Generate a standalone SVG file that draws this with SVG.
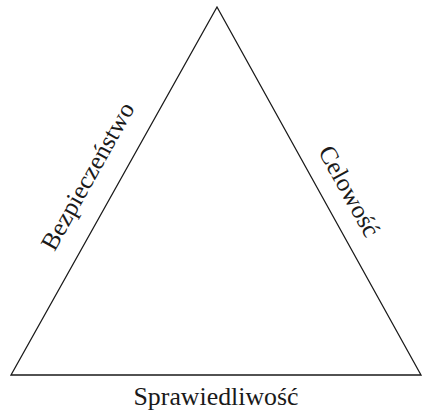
<svg xmlns="http://www.w3.org/2000/svg" width="423" height="412" viewBox="0 0 423 412">
<style>
.lbl{font-family:"Liberation Serif","DejaVu Serif",serif;font-size:25px;fill:#1a1a1a;text-anchor:middle}
.edge{fill:none;stroke:#1a1a1a;stroke-width:1.3;stroke-linejoin:miter}
</style>
<rect width="423" height="412" fill="#fff"/>
<g id="connectors">
<path class="edge" d="M217,7 L11,375 L421,375 Z"/>
</g>
<g id="left">
<text class="lbl" transform="translate(94.8,180.2) rotate(-60.76)" textLength="165" lengthAdjust="spacingAndGlyphs">Bezpieczeństwo</text>
</g>
<g id="right">
<text class="lbl" transform="translate(341.9,195.2) rotate(61)" textLength="100" lengthAdjust="spacingAndGlyphs">Celowość</text>
</g>
<g id="bottom">
<text class="lbl" x="216" y="405" textLength="165" lengthAdjust="spacingAndGlyphs">Sprawiedliwość</text>
</g>
</svg>
